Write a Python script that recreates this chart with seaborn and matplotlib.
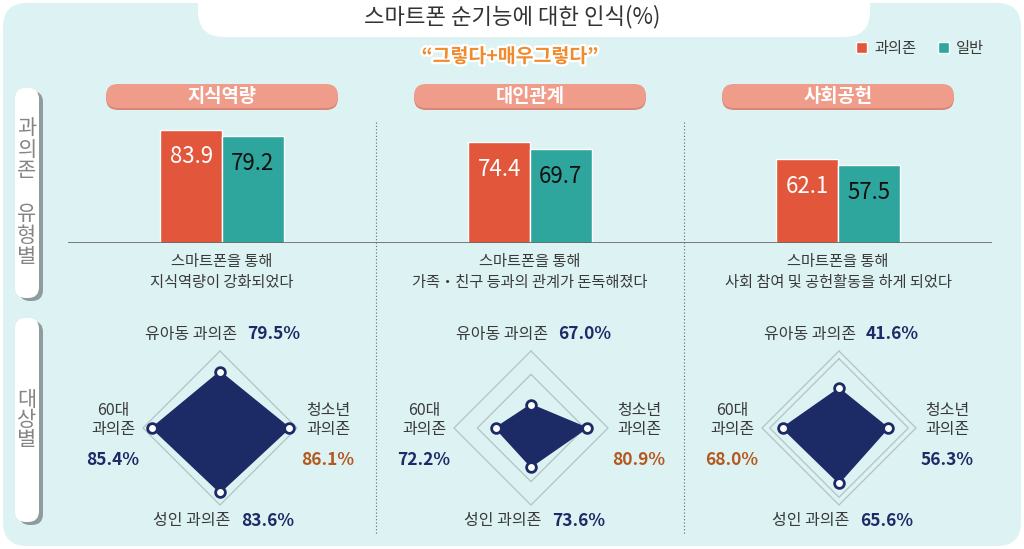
import numpy as np
import pandas as pd
import matplotlib
matplotlib.use("Agg")
import matplotlib.pyplot as plt
import matplotlib.patheffects as pe
from matplotlib.patches import FancyBboxPatch
import seaborn as sns

# data
categories = ["지식역량", "대인관계", "사회공헌"]
groups = ["과의존", "일반"]
overdependent = [83.9, 74.4, 62.1]
general = [79.2, 69.7, 57.5]
statements = ["스마트폰을 통해\n지식역량이 강화되었다",
              "스마트폰을 통해\n가족・친구 등과의 관계가 돈독해졌다",
              "스마트폰을 통해\n사회 참여 및 공헌활동을 하게 되었다"]
targets = ["유아동", "청소년", "성인", "60대"]  # top, right, bottom, left
knowledge_by_target = [79.5, 86.1, 83.6, 85.4]
relation_by_target = [67.0, 80.9, 73.6, 72.2]
social_by_target = [41.6, 56.3, 65.6, 68.0]

W, H = 1024, 549
RED = "#e2573b"
TEAL = "#2ea59d"
NAVY = "#1c2a66"
BROWN = "#b4581e"
BG = "#dcf2f3"
TEXT = "#3a3a3a"

sns.set_theme(style="white")
plt.rcParams["font.family"] = ["Noto Sans CJK KR", "DejaVu Sans"]

fig = plt.figure(figsize=(W / 100, H / 100), dpi=100, facecolor="white")


def px_axes(x0, y0, w, h, **kwargs):
    return fig.add_axes([x0 / W, 1 - (y0 + h) / H, w / W, h / H], **kwargs)


def rounded(ax, x, y, w, h, r, color, z=0):
    ax.add_patch(FancyBboxPatch((x, y), w, h,
                                boxstyle=f"round,pad=0,rounding_size={r}",
                                fc=color, ec="none", zorder=z))


# background canvas in pixel units
bg = px_axes(0, 0, W, H)
bg.set_xlim(0, W)
bg.set_ylim(H, 0)
bg.axis("off")

rounded(bg, 3, 3, 1018, 543, 24, BG)
rounded(bg, 198, -40, 672, 77, 26, "white", z=1)
bg.text(512, 17, "스마트폰 순기능에 대한 인식(%)", ha="center", va="center",
        fontsize=16, color="#333333", zorder=2)
bg.text(510, 57, "“그렇다+매우그렇다”", ha="center", va="center",
        fontsize=14, weight="bold", color="#f08a2c", zorder=2,
        path_effects=[pe.withStroke(linewidth=3.5, foreground="white")])

# category pills
pill_centers = [222, 530, 838]
for cx, name in zip(pill_centers, categories):
    rounded(bg, cx - 116, 86, 232, 24, 12, "#d98676", z=1)
    rounded(bg, cx - 116, 84, 232, 24, 12, "#f09c8b", z=2)
    bg.text(cx, 96, name, ha="center", va="center", fontsize=13.5,
            weight="bold", color="white", zorder=3)

# side labels, one character per row
for y0, y1, label, step in [(88, 298, "과의존 유형별", 21.5), (318, 522, "대상별", 20)]:
    rounded(bg, 19, y0 + 3, 24, y1 - y0, 11, "#8d9c9c", z=1)
    rounded(bg, 15, y0, 24, y1 - y0, 11, "white", z=2)
    mid = (y0 + y1) / 2
    for k, ch in enumerate(label):
        y = mid + (k - (len(label) - 1) / 2) * step
        bg.text(27, y, ch, ha="center", va="center", fontsize=15,
                color="#858585", zorder=3)

# dotted separators
for x in [376, 684]:
    bg.plot([x, x], [122, 535], color="#666666", lw=0.8,
            ls=(0, (1, 2)), zorder=1)

# statements under the bars
for cx, stmt in zip(pill_centers, statements):
    bg.text(cx, 272, stmt, ha="center", va="center", fontsize=11,
            color=TEXT, linespacing=1.25, zorder=2)

# bars
bar_data = pd.DataFrame({"영역": categories * 2,
                         "집단": [groups[0]] * 3 + [groups[1]] * 3,
                         "비율": overdependent + general})
ax_bar = px_axes(68, 120, 924, 123)
ax_bar.set_facecolor("none")
sns.barplot(data=bar_data, x="영역", y="비율", hue="집단", hue_order=groups,
            palette=[RED, TEAL], width=0.4, saturation=1, ax=ax_bar)
ax_bar.set_xlim(-0.5, 2.5)
ax_bar.set_ylim(0, 91)
ax_bar.set(xlabel="", ylabel="", xticks=[], yticks=[])
sns.despine(ax=ax_bar, left=True, bottom=True)
ax_bar.axhline(0, color="#666666", lw=1.2)
for cont, col in zip(ax_bar.containers, ["white", "#111111"]):
    ax_bar.bar_label(cont, fmt="%.1f", padding=-28, color=col, fontsize=16)

handles, labels = ax_bar.get_legend_handles_labels()
ax_bar.legend(handles, labels, ncol=2, frameon=False, loc="center right",
              bbox_to_anchor=(998 / W, 1 - 48 / H),
              bbox_transform=fig.transFigure, handlelength=0.7,
              handleheight=0.7, handletextpad=0.5, columnspacing=1.4,
              fontsize=11, labelcolor=TEXT)

# radar panels
radar_sets = [knowledge_by_target, relation_by_target, social_by_target]
radar_centers = [(220, 428), (531, 428), (839, 428)]
radar_limits = [(51, 90), (57, 90), (-20, 100)]
radar_rings = [[90], [90, 80], [100, 88]]
R = 77
angles = np.deg2rad([0, 90, 180, 270])
closed = np.append(angles, angles[0])

for vals, (cx, cy), (lo, hi), rings in zip(radar_sets, radar_centers,
                                           radar_limits, radar_rings):
    ax = px_axes(cx - R, cy - R, 2 * R, 2 * R, projection="polar")
    ax.set_theta_zero_location("N")
    ax.set_theta_direction(-1)
    ax.set_ylim(lo, hi)
    ax.set_facecolor("none")
    ax.grid(False)
    ax.spines["polar"].set_visible(False)
    ax.set_xticks([])
    ax.set_yticks([])
    for ring in rings:
        ax.plot(closed, [ring] * 5, color="#b5c2c2", lw=0.9, clip_on=False)
    ax.fill(closed, np.append(vals, vals[0]), color=NAVY, zorder=3)
    ax.plot(angles, vals, ls="none", marker="o", ms=7, mfc="white",
            mec=NAVY, mew=2, zorder=4, clip_on=False)

    top = int(np.argmax(vals))
    vcol = [BROWN if i == top else NAVY for i in range(4)]
    vtxt = [f"{v:.1f}%" for v in vals]
    lab = dict(fontsize=11.5, color=TEXT, zorder=5)
    val = dict(fontsize=12.5, weight="bold", zorder=5)
    # top
    bg.text(cx + 17, cy - 94, f"{targets[0]} 과의존", ha="right", va="center", **lab)
    bg.text(cx + 27, cy - 94, vtxt[0], ha="left", va="center", color=vcol[0], **val)
    # right
    bg.text(cx + 108, cy - 8, f"{targets[1]}\n과의존", ha="center", va="center",
            linespacing=1.2, **lab)
    bg.text(cx + 108, cy + 32, vtxt[1], ha="center", va="center", color=vcol[1], **val)
    # bottom
    bg.text(cx + 10, cy + 93, f"{targets[2]} 과의존", ha="right", va="center", **lab)
    bg.text(cx + 21, cy + 93, vtxt[2], ha="left", va="center", color=vcol[2], **val)
    # left
    bg.text(cx - 107, cy - 8, f"{targets[3]}\n과의존", ha="center", va="center",
            linespacing=1.2, **lab)
    bg.text(cx - 107, cy + 32, vtxt[3], ha="center", va="center", color=vcol[3], **val)

fig.savefig("out.png", dpi=100, facecolor="white")
